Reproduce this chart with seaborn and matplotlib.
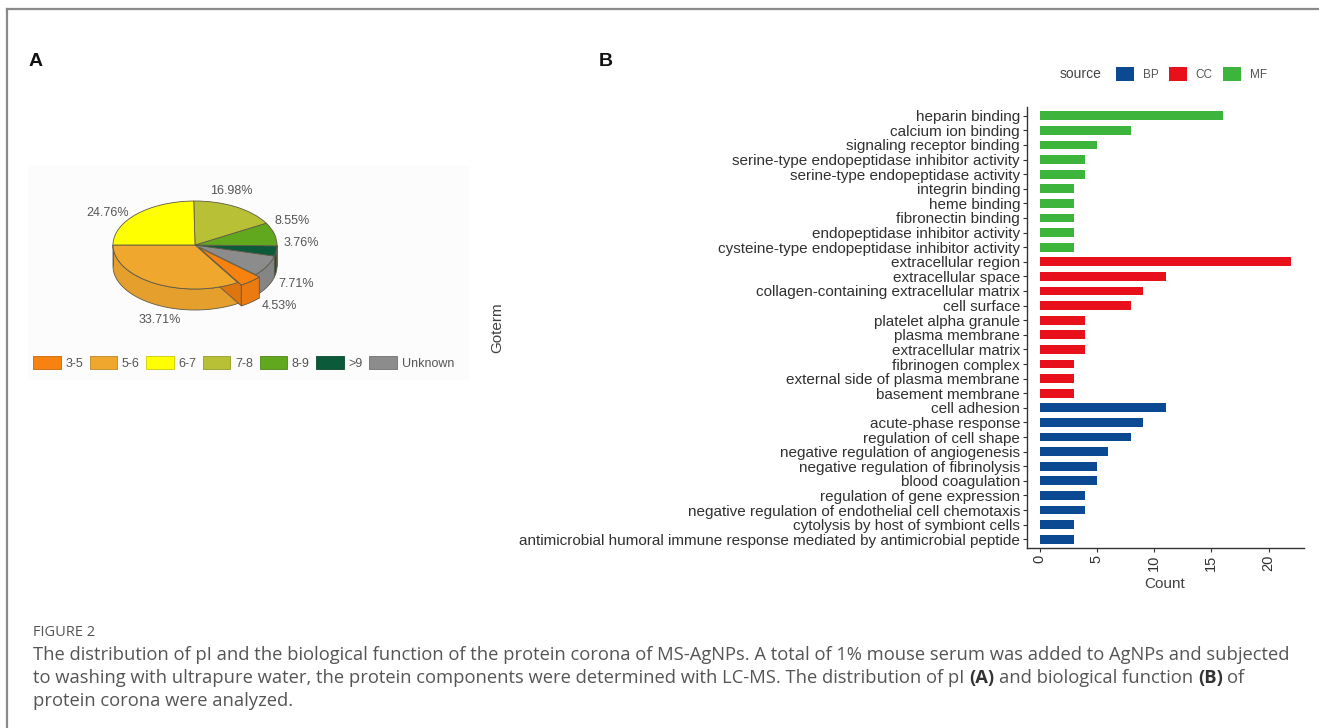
import numpy as np
import pandas as pd
import matplotlib
matplotlib.use("Agg")
import matplotlib.pyplot as plt
from matplotlib.patches import Patch, Polygon, Rectangle
from matplotlib.lines import Line2D
from matplotlib.colors import to_rgb
import seaborn as sns

# ---- panel A: pI distribution of corona proteins (%) ----
pi_groups = ["3-5", "5-6", "6-7", "7-8", "8-9", ">9", "Unknown"]
pi_share = [4.53, 33.71, 24.76, 16.98, 8.55, 3.76, 7.71]
pi_colors = ["#F7820F", "#F0A72E", "#FFFF00", "#B8C135", "#62A81E", "#0B5B3A", "#8C8C8C"]
# slices run counter-clockwise from 9 o'clock in this order
pie_order = ["5-6", "3-5", "Unknown", ">9", "8-9", "7-8", "6-7"]
pie_pulled = ["3-5"]

# ---- panel B: GO enrichment counts ----
go_terms = [
    "heparin binding",
    "calcium ion binding",
    "signaling receptor binding",
    "serine-type endopeptidase inhibitor activity",
    "serine-type endopeptidase activity",
    "integrin binding",
    "heme binding",
    "fibronectin binding",
    "endopeptidase inhibitor activity",
    "cysteine-type endopeptidase inhibitor activity",
    "extracellular region",
    "extracellular space",
    "collagen-containing extracellular matrix",
    "cell surface",
    "platelet alpha granule",
    "plasma membrane",
    "extracellular matrix",
    "fibrinogen complex",
    "external side of plasma membrane",
    "basement membrane",
    "cell adhesion",
    "acute-phase response",
    "regulation of cell shape",
    "negative regulation of angiogenesis",
    "negative regulation of fibrinolysis",
    "blood coagulation",
    "regulation of gene expression",
    "negative regulation of endothelial cell chemotaxis",
    "cytolysis by host of symbiont cells",
    "antimicrobial humoral immune response mediated by antimicrobial peptide",
]
go_counts = [16, 8, 5, 4, 4, 3, 3, 3, 3, 3,
             22, 11, 9, 8, 4, 4, 4, 3, 3, 3,
             11, 9, 8, 6, 5, 5, 4, 4, 3, 3]
go_source = ["MF"] * 10 + ["CC"] * 10 + ["BP"] * 10
source_levels = ["BP", "CC", "MF"]
source_colors = ["#0B4A92", "#E8111B", "#3DB53D"]

caption_head = "FIGURE 2"
caption_line1 = ("The distribution of pI and the biological function of the protein corona of "
                 "MS-AgNPs. A total of 1% mouse serum was added to AgNPs and subjected")
caption_line2 = [("to washing with ultrapure water, the protein components were determined with "
                  "LC-MS. The distribution of pI", "normal"),
                 ("(A)", "bold"), ("and biological function", "normal"),
                 ("(B)", "bold"), ("of", "normal")]
caption_line3 = "protein corona were analyzed."

W, H = 1319, 728
fig = plt.figure(figsize=(W / 100, H / 100), dpi=100)
fig.patch.set_facecolor("white")


def fx(px):
    return px / W


def fy(py):
    return 1 - py / H


# frame around the figure
fig.add_artist(Line2D([fx(7), 1.0], [fy(9), fy(9)], color="#8a8a8a", lw=1.6))
fig.add_artist(Line2D([fx(7), fx(7)], [fy(9), 0.0], color="#8a8a8a", lw=1.6))

# panel letters
fig.text(fx(29), fy(62), "A", fontsize=14, weight="bold", family="Liberation Sans",
         ha="left", va="center", color="#111")
fig.text(fx(599), fy(62), "B", fontsize=14, weight="bold", family="Liberation Sans",
         ha="left", va="center", color="#111")

# ---------------- panel A: 3-D style pie ----------------
fig.add_artist(Rectangle((fx(28), fy(380)), fx(470) - fx(28), (380 - 166) / H,
                         transform=fig.transFigure, facecolor="#fcfcfc",
                         edgecolor="none", zorder=0))

cx_px, cy_px, rx_px, ry_px, depth_px = 195, 245, 82, 44, 21
left_px, right_px, top_px, bot_px = 28, 468, 160, 345
ax_p = fig.add_axes([fx(left_px), fy(bot_px), fx(right_px) - fx(left_px),
                     (bot_px - top_px) / H])
vals = [pi_share[pi_groups.index(g)] for g in pie_order]
cols = [pi_colors[pi_groups.index(g)] for g in pie_order]
explode = [0.07 if g in pie_pulled else 0.0 for g in pie_order]
edge = "#5f5a48"
wedges, _ = ax_p.pie(vals, colors=cols, startangle=180, counterclock=True,
                     explode=explode, radius=1.0,
                     wedgeprops=dict(edgecolor=edge, linewidth=0.6, zorder=3))
ax_p.set_aspect("auto")
ax_p.set_xlim(-(cx_px - left_px) / rx_px, (right_px - cx_px) / rx_px)
ax_p.set_ylim(-(bot_px - cy_px) / ry_px, (cy_px - top_px) / ry_px)
ax_p.axis("off")
depth = depth_px / ry_px


def shade(c, f=0.88):
    r, g, b = to_rgb(c)
    return (r * f, g * f, b * f)


# outer side walls on the front half of the disc
for w, c, g in zip(wedges, cols, pie_order):
    a1, a2 = w.theta1, w.theta2
    wx, wy = w.center
    for k in (0.0, 360.0):
        lo, hi = max(a1, 180.0 + k), min(a2, 360.0 + k)
        if hi <= lo:
            continue
        t = np.radians(np.linspace(lo, hi, 80))
        top = np.column_stack([wx + w.r * np.cos(t), wy + w.r * np.sin(t)])
        bot = top - np.array([0.0, depth])
        z = 2.2 if g in pie_pulled else 2.0
        ax_p.add_patch(Polygon(np.vstack([top, bot[::-1]]), closed=True,
                               facecolor=shade(c, 0.95), edgecolor=edge, lw=0.6, zorder=z))
    # cut faces of the pulled-out slice
    if g in pie_pulled:
        for a, nrm in ((a1, a1 - 90.0), (a2, a2 + 90.0)):
            if np.sin(np.radians(nrm)) >= 0:
                continue
            ra = np.radians(a)
            pts = np.array([[wx, wy], [wx + w.r * np.cos(ra), wy + w.r * np.sin(ra)],
                            [wx + w.r * np.cos(ra), wy + w.r * np.sin(ra) - depth],
                            [wx, wy - depth]])
            ax_p.add_patch(Polygon(pts, closed=True, facecolor=shade(c, 0.9),
                                   edgecolor=edge, lw=0.6, zorder=2.1))

# percentage labels, set a little ahead of each slice's middle to follow the tilt
for w, v in zip(wedges, vals):
    m = np.radians((w.theta1 + w.theta2) / 2 + 10.0)
    wx, wy = w.center
    lx = wx + 1.3 * np.cos(m)
    ly = wy + 1.3 * np.sin(m)
    if np.sin(m) < 0:
        ly -= depth
    ax_p.text(lx, ly, f"{v:.2f}%", ha="center", va="center", fontsize=9,
              family="Liberation Sans", color="#555555", zorder=5)

pie_handles = [Patch(facecolor=c, edgecolor=shade(c, 0.8), linewidth=0.6) for c in pi_colors]
leg_a = fig.legend(pie_handles, pi_groups, loc="center left",
                   bbox_to_anchor=(fx(33), fy(363)), ncol=7, frameon=False,
                   prop=dict(family="Liberation Sans", size=9),
                   handlelength=2.2, handleheight=1.15, handletextpad=0.4,
                   columnspacing=0.5, borderpad=0, borderaxespad=0)
for t in leg_a.get_texts():
    t.set_color("#555555")

# ---------------- panel B: GO bar chart ----------------
ax_left, ax_right, ax_top, ax_bot = 1027, 1304, 107, 548
ax_b = fig.add_axes([fx(ax_left), fy(ax_bot), fx(ax_right) - fx(ax_left),
                     (ax_bot - ax_top) / H])
df = pd.DataFrame({"Goterm": go_terms, "Count": go_counts, "source": go_source})
sns.barplot(data=df, x="Count", y="Goterm", hue="source", hue_order=source_levels,
            order=go_terms, palette=dict(zip(source_levels, source_colors)),
            dodge=False, width=0.6, saturation=1, legend=False, ax=ax_b)
ax_b.set_ylim(len(go_terms) - 0.4, -0.6)
ax_b.set_xlim(-1.1, 23.1)
ax_b.set_xticks([0, 5, 10, 15, 20])
ax_b.set_xticklabels(["0", "5", "10", "15", "20"], rotation=90, ha="center", va="top")
for s in ("top", "right"):
    ax_b.spines[s].set_visible(False)
for s in ("left", "bottom"):
    ax_b.spines[s].set_color("#333333")
    ax_b.spines[s].set_linewidth(1.0)
ax_b.tick_params(axis="both", length=3, width=0.8, color="#333333", pad=2,
                 labelcolor="#303030")
ax_b.tick_params(axis="y", labelsize=11)
ax_b.tick_params(axis="x", labelsize=10.5)
for t in ax_b.get_xticklabels() + ax_b.get_yticklabels():
    t.set_family("Liberation Sans")
ax_b.set_xlabel("Count", fontsize=11, family="Liberation Sans", color="#404040")
ax_b.set_ylabel("Goterm", fontsize=11, family="Liberation Sans", color="#404040")
axw, axh = ax_right - ax_left, ax_bot - ax_top
ax_b.xaxis.set_label_coords((1165 - ax_left) / axw, -(577 - ax_bot) / axh)
ax_b.yaxis.set_label_coords((504 - ax_left) / axw, 0.5)
ax_b.set_facecolor("white")

fig.text(fx(1060), fy(74), "source", ha="left", va="center", fontsize=10,
         family="Liberation Sans", color="#444444")
src_handles = [Patch(facecolor=c, edgecolor="none") for c in source_colors]
leg_b = fig.legend(src_handles, source_levels, loc="center left",
                   bbox_to_anchor=(fx(1116), fy(74)), ncol=3, frameon=False,
                   prop=dict(family="Liberation Sans", size=8.5),
                   handlelength=1.52, handleheight=1.52, handletextpad=0.76,
                   columnspacing=0.85, borderpad=0, borderaxespad=0)
for t in leg_b.get_texts():
    t.set_color("#555555")

# ---------------- caption ----------------
renderer = fig.canvas.get_renderer()
cap_color = "#555555"
cap_family = "Open Sans"
fig.text(fx(33), fy(632), caption_head, ha="left", va="center", fontsize=10.5,
         family=cap_family, color=cap_color)

t1 = fig.text(fx(33), fy(655), caption_line1, ha="left", va="center", fontsize=11,
              family=cap_family, color=cap_color)
w1 = t1.get_window_extent(renderer).width
cap_size = 11 * (1290 - 33) / w1
t1.set_fontsize(cap_size)


def space_width(size, weight="normal"):
    a = fig.text(0, 0, "a a", fontsize=size, family=cap_family, weight=weight)
    b = fig.text(0, 0, "aa", fontsize=size, family=cap_family, weight=weight)
    d = a.get_window_extent(renderer).width - b.get_window_extent(renderer).width
    a.remove()
    b.remove()
    return d


sp = space_width(cap_size)
x = 33.0
for s, weight in caption_line2:
    t = fig.text(fx(x), fy(678), s, ha="left", va="center", fontsize=cap_size,
                 family=cap_family, weight=weight,
                 color="#333333" if weight == "bold" else cap_color)
    x += t.get_window_extent(renderer).width + sp
fig.text(fx(33), fy(701), caption_line3, ha="left", va="center", fontsize=cap_size,
         family=cap_family, color=cap_color)

fig.savefig("out.png", dpi=100, facecolor="white")
